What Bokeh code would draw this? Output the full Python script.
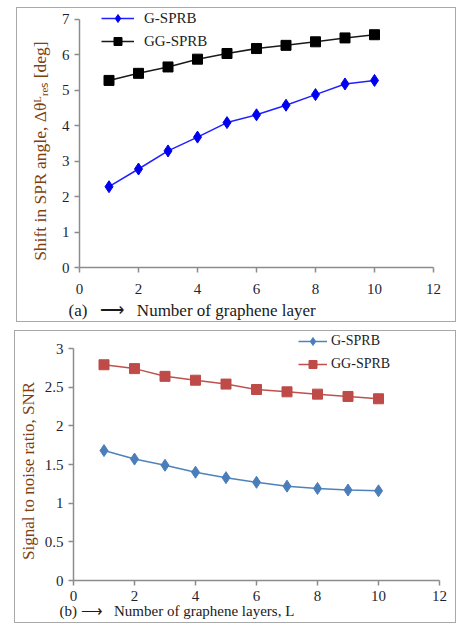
from bokeh.plotting import figure
from bokeh.models import FixedTicker, Legend, Title
from bokeh.embed import file_html
from bokeh.resources import INLINE

# ---- data ----
layers = [1, 2, 3, 4, 5, 6, 7, 8, 9, 10]
shift_g = [2.28, 2.78, 3.29, 3.68, 4.09, 4.31, 4.58, 4.88, 5.18, 5.28]
shift_gg = [5.28, 5.48, 5.66, 5.88, 6.04, 6.18, 6.27, 6.37, 6.48, 6.57]
snr_g = [1.68, 1.57, 1.49, 1.40, 1.33, 1.27, 1.22, 1.19, 1.17, 1.16]
snr_gg = [2.79, 2.74, 2.64, 2.59, 2.54, 2.47, 2.44, 2.41, 2.38, 2.35]
x_ticks = [0, 2, 4, 6, 8, 10, 12]
y_ticks_a = [0, 1, 2, 3, 4, 5, 6, 7]
y_ticks_b = [0, 0.5, 1, 1.5, 2, 2.5, 3]
y_labels_b = {0: "0", 0.5: "0.5", 1: "1", 1.5: "1.5", 2: "2", 2.5: "2.5", 3: "3"}

FONT = "Liberation Serif"
TICK_COLOR = "#1f1f33"
YLAB_COLOR = "#7f4010"
AXIS_COLOR = "#8c8c8c"
NB = "\u00a0"


def style(p, yticks, ybounds, ylabel, ylab_size, ylab_standoff, tick_size):
    p.xgrid.visible = False
    p.ygrid.visible = False
    p.outline_line_color = None
    p.xaxis.ticker = FixedTicker(ticks=x_ticks)
    p.yaxis.ticker = FixedTicker(ticks=yticks)
    p.yaxis.bounds = ybounds
    for ax in (p.xaxis[0], p.yaxis[0]):
        ax.axis_line_color = AXIS_COLOR
        ax.axis_line_width = 1.5
        ax.major_tick_line_color = AXIS_COLOR
        ax.major_tick_line_width = 1.5
        ax.major_tick_out = 5
        ax.major_tick_in = 0
        ax.minor_tick_line_color = None
        ax.major_label_text_font = FONT
        ax.major_label_text_font_size = tick_size
        ax.major_label_text_color = TICK_COLOR
        ax.major_label_standoff = 5
    p.yaxis.axis_label = ylabel
    p.yaxis.axis_label_text_font = FONT
    p.yaxis.axis_label_text_font_size = ylab_size
    p.yaxis.axis_label_text_font_style = "normal"
    p.yaxis.axis_label_text_color = YLAB_COLOR
    p.yaxis.axis_label_standoff = ylab_standoff


# ---- panel (a) ----
p1 = figure(width=440, height=315, x_range=(0, 12), y_range=(0, 7.31),
            output_backend="svg", toolbar_location=None,
            min_border_left=62, min_border_right=24, min_border_top=0,
            min_border_bottom=56)
p1.margin = (7, 0, 0, 16)
p1.styles = {"border": "1px solid #a8a8a8"}
style(p1, y_ticks_a, (0, 7), "Shift in SPR angle, Δθᴸᵣₑₛ [deg]" + NB * 6,
      "17.5px", 9, "15px")
p1.xaxis.major_label_standoff = 11

r1 = p1.line(layers, shift_g, line_color="#2020ff", line_width=1.5)
s1 = p1.scatter(layers, shift_g, marker="diamond", size=12,
                fill_color="#0000f0", line_color="#0000f0")
r2 = p1.line(layers, shift_gg, line_color="#1a1a1a", line_width=1.5)
s2 = p1.scatter(layers, shift_gg, marker="square", size=10,
                fill_color="#000000", line_color="#000000")
leg1 = Legend(items=[("G-SPRB", [r1, s1]), ("GG-SPRB", [r2, s2])],
              location=(22, 216), orientation="vertical",
              glyph_width=33, glyph_height=20, label_height=20,
              label_standoff=10, spacing=3, padding=0, margin=0,
              border_line_color=None, background_fill_alpha=0,
              label_text_font=FONT, label_text_font_size="15px",
              label_text_color="#222222")
p1.add_layout(leg1)
p1.add_layout(Title(text="(a)" + NB * 3 + "⟶" + NB * 3 + "Number of graphene layer",
                    align="left", offset=-11, standoff=5, text_font=FONT,
                    text_font_size="17px", text_font_style="normal",
                    text_color="#1a1a1a"), "below")

# ---- panel (b) ----
p2 = figure(width=442, height=293, x_range=(0, 12), y_range=(0, 3.22),
            output_backend="svg", toolbar_location=None,
            min_border_left=58, min_border_right=18, min_border_top=0,
            min_border_bottom=44)
p2.margin = (8, 0, 0, 14)
p2.styles = {"border": "1px solid #a8a8a8"}
style(p2, y_ticks_b, (0, 3), "Signal to noise ratio, SNR" + NB * 7,
      "17px", 4, "15px")
p2.yaxis.major_label_overrides = y_labels_b
p2.xaxis.major_label_standoff = 5

q1 = p2.line(layers, snr_g, line_color="#4f81bd", line_width=1.5)
t1 = p2.scatter(layers, snr_g, marker="diamond", size=12,
                fill_color="#4a7ebb", line_color="#4a7ebb")
q2 = p2.line(layers, snr_gg, line_color="#c0504d", line_width=1.5)
t2 = p2.scatter(layers, snr_gg, marker="square", size=10,
                fill_color="#be4b48", line_color="#be4b48")
leg2 = Legend(items=[("G-SPRB", [q1, t1]), ("GG-SPRB", [q2, t2])],
              location=(225, 206), orientation="vertical",
              glyph_width=29, glyph_height=20, label_height=20,
              label_standoff=4, spacing=3, padding=0, margin=0,
              border_line_color=None, background_fill_alpha=0,
              label_text_font=FONT, label_text_font_size="14px",
              label_text_color="#222222")
p2.add_layout(leg2)
p2.add_layout(Title(text="(b)" + NB + "⟶" + NB * 3 + "Number of graphene layers, L",
                    align="left", offset=-14, standoff=-6, text_font=FONT,
                    text_font_size="15px", text_font_style="normal",
                    text_color="#1a1a1a"), "below")

open("out.html", "w").write(file_html([p1, p2], INLINE))
